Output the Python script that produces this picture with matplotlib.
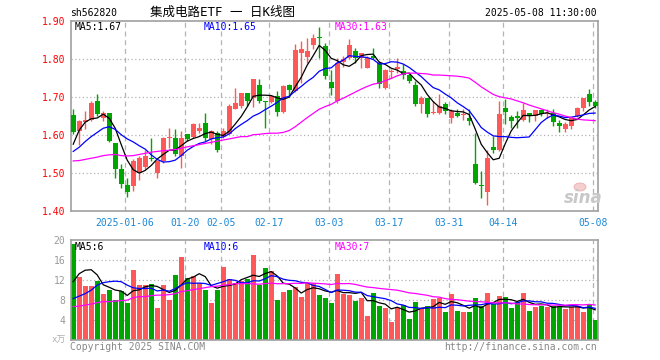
import matplotlib
matplotlib.use("Agg")
import matplotlib.pyplot as plt
from matplotlib.patches import Ellipse

plt.rcParams['font.family'] = ['DejaVu Sans Mono', 'Noto Sans CJK SC']

# ── 行情数据 ─────────────────────────────────────────
opens = [1.651, 1.611, 1.634, 1.640, 1.689, 1.645, 1.656, 1.577, 1.509, 1.467,
         1.465, 1.500, 1.515, 1.538, 1.500, 1.531, 1.590, 1.592, 1.544, 1.601,
         1.594, 1.610, 1.630, 1.588, 1.604, 1.594, 1.603, 1.668, 1.675, 1.709,
         1.697, 1.730, 1.688, 1.687, 1.702, 1.660, 1.730, 1.715, 1.814, 1.805,
         1.835, 1.856, 1.833, 1.739, 1.689, 1.790, 1.803, 1.820, 1.803, 1.776,
         1.807, 1.789, 1.724, 1.764, 1.773, 1.768, 1.756, 1.731, 1.682, 1.696,
         1.657, 1.657, 1.680, 1.643, 1.656, 1.652, 1.643, 1.522, 1.466, 1.449,
         1.568, 1.561, 1.669, 1.647, 1.649, 1.638, 1.656, 1.649, 1.664, 1.654,
         1.656, 1.632, 1.616, 1.623, 1.649, 1.669, 1.708, 1.687]
highs = [1.668, 1.638, 1.662, 1.689, 1.706, 1.662, 1.658, 1.579, 1.522, 1.487,
         1.535, 1.544, 1.561, 1.592, 1.533, 1.595, 1.618, 1.614, 1.610, 1.601,
         1.631, 1.631, 1.656, 1.612, 1.610, 1.618, 1.680, 1.724, 1.709, 1.709,
         1.747, 1.747, 1.690, 1.703, 1.715, 1.730, 1.734, 1.838, 1.846, 1.854,
         1.866, 1.884, 1.842, 1.769, 1.803, 1.807, 1.851, 1.829, 1.816, 1.807,
         1.829, 1.794, 1.772, 1.772, 1.803, 1.785, 1.763, 1.741, 1.702, 1.697,
         1.688, 1.708, 1.687, 1.667, 1.668, 1.667, 1.668, 1.604, 1.504, 1.561,
         1.596, 1.689, 1.693, 1.651, 1.662, 1.684, 1.656, 1.664, 1.668, 1.667,
         1.668, 1.638, 1.634, 1.646, 1.673, 1.697, 1.719, 1.691]
lows = [1.603, 1.573, 1.614, 1.636, 1.649, 1.636, 1.580, 1.487, 1.461, 1.436,
        1.452, 1.480, 1.509, 1.530, 1.487, 1.526, 1.566, 1.544, 1.513, 1.583,
        1.592, 1.605, 1.583, 1.576, 1.555, 1.592, 1.601, 1.667, 1.671, 1.675,
        1.673, 1.684, 1.618, 1.684, 1.649, 1.658, 1.698, 1.713, 1.737, 1.789,
        1.826, 1.803, 1.746, 1.705, 1.684, 1.778, 1.798, 1.789, 1.776, 1.775,
        1.798, 1.724, 1.719, 1.750, 1.763, 1.746, 1.737, 1.675, 1.658, 1.646,
        1.654, 1.655, 1.654, 1.630, 1.646, 1.640, 1.625, 1.469, 1.434, 1.415,
        1.553, 1.557, 1.627, 1.618, 1.618, 1.636, 1.634, 1.636, 1.649, 1.643,
        1.623, 1.608, 1.608, 1.614, 1.647, 1.662, 1.675, 1.670]
closes = [1.607, 1.636, 1.638, 1.684, 1.654, 1.656, 1.583, 1.509, 1.469, 1.449,
          1.531, 1.538, 1.544, 1.535, 1.531, 1.592, 1.593, 1.548, 1.592, 1.588,
          1.627, 1.618, 1.590, 1.610, 1.561, 1.610, 1.675, 1.684, 1.709, 1.689,
          1.747, 1.689, 1.687, 1.702, 1.660, 1.728, 1.717, 1.822, 1.826, 1.820,
          1.855, 1.854, 1.754, 1.723, 1.789, 1.800, 1.835, 1.803, 1.814, 1.803,
          1.803, 1.734, 1.770, 1.766, 1.778, 1.756, 1.741, 1.682, 1.696, 1.655,
          1.659, 1.675, 1.662, 1.662, 1.649, 1.654, 1.636, 1.472, 1.465, 1.538,
          1.561, 1.654, 1.660, 1.636, 1.643, 1.664, 1.649, 1.664, 1.654, 1.658,
          1.634, 1.623, 1.629, 1.643, 1.669, 1.696, 1.687, 1.676]

ma5 = [1.575, 1.612, 1.633, 1.642, 1.644, 1.654, 1.643, 1.617, 1.574, 1.533,
       1.508, 1.499, 1.506, 1.519, 1.536, 1.548, 1.559, 1.560, 1.571, 1.583,
       1.590, 1.595, 1.603, 1.607, 1.601, 1.598, 1.609, 1.628, 1.648, 1.673,
       1.701, 1.704, 1.704, 1.703, 1.697, 1.693, 1.699, 1.726, 1.751, 1.783,
       1.808, 1.835, 1.822, 1.801, 1.795, 1.784, 1.780, 1.790, 1.808, 1.811,
       1.812, 1.791, 1.785, 1.775, 1.770, 1.761, 1.762, 1.745, 1.731, 1.706,
       1.687, 1.673, 1.669, 1.663, 1.661, 1.660, 1.653, 1.615, 1.575, 1.553,
       1.534, 1.538, 1.576, 1.610, 1.631, 1.651, 1.650, 1.651, 1.655, 1.658,
       1.652, 1.647, 1.640, 1.637, 1.640, 1.652, 1.665, 1.674]
ma10 = [1.556, 1.567, 1.582, 1.595, 1.606, 1.617, 1.621, 1.614, 1.600, 1.589,
        1.581, 1.571, 1.562, 1.547, 1.535, 1.528, 1.529, 1.533, 1.545, 1.559,
        1.569, 1.577, 1.581, 1.589, 1.592, 1.594, 1.602, 1.616, 1.627, 1.637,
        1.649, 1.656, 1.666, 1.675, 1.685, 1.697, 1.701, 1.715, 1.727, 1.740,
        1.751, 1.767, 1.774, 1.776, 1.789, 1.796, 1.808, 1.806, 1.805, 1.803,
        1.798, 1.786, 1.787, 1.792, 1.791, 1.786, 1.777, 1.765, 1.753, 1.738,
        1.724, 1.718, 1.707, 1.697, 1.684, 1.674, 1.663, 1.642, 1.619, 1.607,
        1.597, 1.595, 1.595, 1.593, 1.592, 1.593, 1.594, 1.613, 1.632, 1.644,
        1.652, 1.649, 1.645, 1.646, 1.649, 1.652, 1.656, 1.657]
ma30 = [1.531, 1.532, 1.535, 1.538, 1.541, 1.545, 1.547, 1.548, 1.545, 1.544,
        1.545, 1.548, 1.551, 1.554, 1.556, 1.558, 1.559, 1.561, 1.564, 1.568,
        1.571, 1.574, 1.577, 1.580, 1.583, 1.586, 1.589, 1.592, 1.595, 1.595,
        1.600, 1.601, 1.603, 1.604, 1.604, 1.606, 1.611, 1.621, 1.633, 1.645,
        1.656, 1.667, 1.674, 1.680, 1.689, 1.696, 1.704, 1.712, 1.720, 1.727,
        1.733, 1.736, 1.742, 1.748, 1.755, 1.760, 1.762, 1.762, 1.761, 1.760,
        1.757, 1.757, 1.756, 1.755, 1.754, 1.752, 1.749, 1.738, 1.726, 1.716,
        1.706, 1.700, 1.697, 1.694, 1.689, 1.684, 1.678, 1.673, 1.668, 1.663,
        1.658, 1.654, 1.649, 1.645, 1.641, 1.639, 1.638, 1.637]

# 成交量 (万)
volume = [19.2, 12.6, 10.8, 10.8, 11.9, 9.3, 10.1, 8.0, 9.8, 7.5,
          14.0, 11.0, 11.0, 11.2, 6.5, 11.0, 8.0, 13.0, 16.7, 12.5,
          12.8, 11.5, 10.1, 7.5, 10.1, 14.7, 12.3, 11.5, 11.9, 12.3,
          17.0, 11.0, 14.5, 13.8, 8.0, 9.7, 10.0, 10.7, 8.7, 11.5,
          11.5, 9.0, 8.5, 7.5, 13.2, 9.3, 9.0, 7.8, 8.5, 4.8,
          9.4, 6.8, 6.5, 3.7, 6.5, 7.1, 4.2, 7.6, 6.5, 6.9,
          8.2, 8.5, 5.7, 9.2, 5.8, 5.6, 5.6, 8.4, 6.9, 9.4,
          7.2, 8.8, 8.6, 6.4, 7.6, 9.4, 5.8, 6.6, 6.8, 6.6,
          6.8, 6.8, 6.2, 6.7, 6.8, 5.6, 7.2, 4.0]
vol_ma5 = [11.7, 13.3, 14.0, 14.1, 13.06, 11.08, 10.58, 10.02, 9.82, 8.94,
           9.88, 10.06, 10.66, 10.94, 10.74, 10.14, 9.54, 9.94, 11.04, 12.24,
           12.6, 13.3, 12.72, 10.88, 10.4, 10.78, 10.94, 11.22, 12.1, 12.54,
           13.0, 12.74, 13.34, 13.72, 12.86, 11.4, 11.2, 10.44, 9.42, 10.12,
           10.48, 10.28, 9.84, 9.6, 9.94, 9.5, 9.5, 9.36, 9.56, 7.88,
           7.9, 7.46, 7.2, 6.24, 6.58, 6.12, 5.6, 5.82, 6.38, 6.46,
           6.68, 7.54, 7.16, 7.7, 7.48, 6.96, 6.38, 6.92, 6.46, 7.18,
           7.5, 8.14, 8.18, 8.08, 7.72, 8.16, 7.56, 7.16, 7.24, 7.04,
           6.52, 6.72, 6.64, 6.62, 6.66, 6.42, 6.5, 6.06]
vol_ma10 = [8.3, 8.8, 9.3, 10.0, 11.0, 11.5, 11.7, 11.8, 11.7, 11.0,
            10.48, 10.32, 10.34, 10.38, 9.84, 10.01, 9.8, 10.3, 10.99, 11.49,
            11.37, 11.42, 11.33, 10.96, 11.32, 11.69, 12.12, 11.97, 11.49, 11.47,
            11.89, 11.84, 12.28, 12.91, 12.7, 12.2, 11.97, 11.89, 11.57, 11.49,
            10.94, 10.74, 10.14, 9.51, 10.03, 9.99, 9.89, 9.6, 9.58, 8.91,
            8.7, 8.48, 8.28, 7.9, 7.23, 7.01, 6.53, 6.51, 6.31, 6.52,
            6.4, 6.57, 6.49, 7.04, 6.97, 6.82, 6.96, 7.04, 7.08, 7.33,
            7.23, 7.26, 7.55, 7.27, 7.45, 7.83, 7.85, 7.67, 7.66, 7.38,
            7.34, 7.14, 6.9, 6.93, 6.85, 6.47, 6.61, 6.35]
vol_ma30 = [6.7, 6.8, 7.0, 7.2, 7.5, 7.7, 7.7, 7.8, 7.9, 8.0,
            8.5, 8.7, 8.7, 8.9, 9.0, 9.0, 9.1, 9.3, 9.7, 9.9,
            10.1, 10.3, 10.5, 10.7, 10.8, 11.0, 11.1, 11.3, 11.3, 11.32,
            11.25, 11.19, 11.32, 11.42, 11.29, 11.3, 11.3, 11.39, 11.35, 11.48,
            11.4, 11.33, 11.25, 11.13, 11.35, 11.29, 11.33, 11.15, 10.88, 10.62,
            10.51, 10.35, 10.23, 10.11, 9.99, 9.73, 9.46, 9.33, 9.15, 8.97,
            8.68, 8.6, 8.3, 8.15, 8.08, 7.94, 7.79, 7.72, 7.66, 7.59,
            7.44, 7.44, 7.44, 7.4, 7.22, 7.22, 7.11, 7.07, 7.02, 7.08,
            6.99, 6.99, 6.98, 7.08, 7.09, 7.04, 7.14, 7.02]

date_idx = [9, 19, 25, 33, 43, 53, 63, 72, 87]
date_labels = ['2025-01-06', '01-20', '02-05', '02-17', '03-03',
               '03-17', '03-31', '04-14', '05-08']
price_ticks = [1.40, 1.50, 1.60, 1.70, 1.80, 1.90]
vol_ticks = [4, 8, 12, 16, 20]

# ── 画布 ──────────────────────────────────────────────────
W, H = 660, 360
fig = plt.figure(figsize=(W / 100, H / 100), dpi=100)
fig.patch.set_facecolor('white')


def rect(l, t, r, b):
    return [l / W, 1 - b / H, (r - l) / W, (b - t) / H]


def ftext(px, py, s, **kw):
    fig.text(px / W, 1 - py / H, s, va='center', **kw)


RED, GREEN = '#ff5858', '#00a600'
FRAME = '#a0a0a0'
GRID = '#b4b4b4'
DATE_BLUE = '#1a88d6'

n = len(closes)
x = list(range(n))
colors = [RED if c >= o else GREEN for o, c in zip(opens, closes)]
x_lim = (-0.42, n - 0.58)
grid_x = [d - 0.42 for d in date_idx]

ax = fig.add_axes(rect(70.7, 20.7, 597.7, 210.7))
axv = fig.add_axes(rect(70.7, 240.3, 597.7, 340))

for a in (ax, axv):
    a.set_xlim(*x_lim)
    for sp in a.spines.values():
        sp.set_color(FRAME)
        sp.set_linewidth(1.2)
    for gx in grid_x:
        a.axvline(gx, color=GRID, linestyle=(0, (4, 3)), linewidth=0.9, zorder=0)

# ── K线 ──────────────────────────────────────────────────
for y in [1.50, 1.60, 1.70, 1.80]:
    ax.axhline(y, color=GRID, linestyle=(0, (1, 2)), linewidth=0.9, zorder=0)

ax.vlines(x, lows, highs, colors=colors, linewidth=1.0, zorder=2)
bottoms = [min(o, c) for o, c in zip(opens, closes)]
heights = [max(abs(c - o), 0.0028) for o, c in zip(opens, closes)]
ax.bar(x, heights, bottom=bottoms, width=0.8, color=colors, linewidth=0, zorder=3)

ax.plot(x, ma5, color='black', linewidth=0.9, zorder=4)
ax.plot(x, ma10, color='#0000ff', linewidth=0.9, zorder=4)
ax.plot(x, ma30, color='#ff00ff', linewidth=0.9, zorder=4)

ax.set_ylim(1.40, 1.90)
ax.set_yticks(price_ticks)
ax.set_yticklabels(['%.2f' % p for p in price_ticks])
ax.tick_params(axis='y', length=0, pad=4, labelsize=7, labelcolor='#ff0000')
ax.set_xticks(grid_x)
ax.set_xticklabels(date_labels)
ax.tick_params(axis='x', length=0, pad=5, labelsize=7, labelcolor=DATE_BLUE)

# ── 成交量 ────────────────────────────────────────────────
for y in [4, 8, 12, 16]:
    axv.axhline(y, color=GRID, linestyle=(0, (1, 2)), linewidth=0.9, zorder=0)
axv.bar(x, volume, width=0.8, color=colors, linewidth=0, zorder=2)
axv.plot(x, vol_ma5, color='black', linewidth=0.9, zorder=4)
axv.plot(x, vol_ma10, color='#0000ff', linewidth=0.9, zorder=4)
axv.plot(x, vol_ma30, color='#ff00ff', linewidth=0.9, zorder=4)
axv.set_ylim(0, 20)
axv.set_yticks(vol_ticks)
axv.set_yticklabels([str(v) for v in vol_ticks])
axv.tick_params(axis='y', length=0, pad=4, labelsize=7, labelcolor='#999999')
axv.set_xticks([])

# ── 文字 ──────────────────────────────────────────────────
ftext(70, 12.5, 'sh562820', fontsize=7, color='black')
ftext(150.5, 12.5, '集成电路ETF 一 日K线图', fontsize=9, color='black')
ftext(597, 12.5, '2025-05-08 11:30:00', fontsize=7, color='black', ha='right')

ftext(75, 27, 'MA5:1.67', fontsize=7, color='black')
ftext(204, 27, 'MA10:1.65', fontsize=7, color='#0000ff')
ftext(335, 27, 'MA30:1.63', fontsize=7, color='#ff00ff')

ftext(75, 246.5, 'MA5:6', fontsize=7, color='black')
ftext(204, 246.5, 'MA10:6', fontsize=7, color='#0000ff')
ftext(335, 246.5, 'MA30:7', fontsize=7, color='#ff00ff')

ftext(66, 340, 'x万', fontsize=6.5, color='#b0b0b0', ha='right')
ftext(70, 347.5, 'Copyright 2025 SINA.COM', fontsize=7, color='#888888')
ftext(597, 347.5, 'http://finance.sina.com.cn', fontsize=7, color='#888888', ha='right')

# sina 水印
fig.patches.append(Ellipse((580 / W, 1 - 187 / H), 12 / W, 8 / H,
                           transform=fig.transFigure, facecolor='#f3c4c4',
                           edgecolor='#e8a0a0', linewidth=0.6, alpha=0.8))
ftext(583, 198, 'sina', fontsize=12, color='#c8c8c8', ha='center',
      fontweight='bold', fontstyle='italic', family='DejaVu Sans')

fig.savefig('out.png', dpi=100, facecolor='white')
